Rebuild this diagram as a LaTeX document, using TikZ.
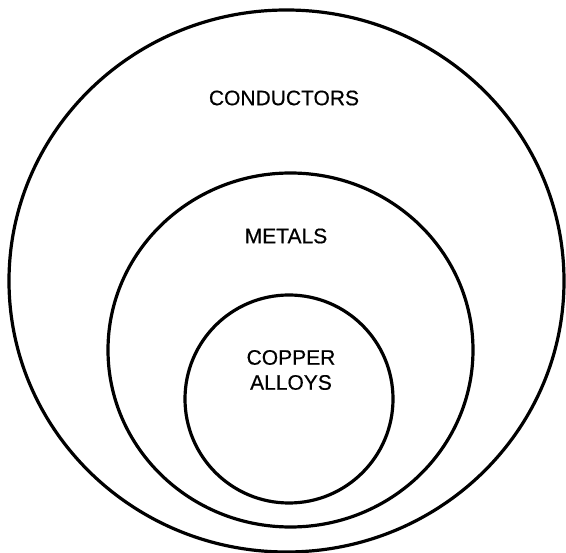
\documentclass[tikz,border=0pt]{standalone}
\usepackage{fontspec}
\setmainfont{Liberation Sans}
\newfontfamily\lblfont{Liberation Sans}[FakeBold=0.5]
\begin{document}
\begin{tikzpicture}[x=1pt,y=-1pt,
  ring/.style={draw=black,line width=3.2pt},
  lbl/.style={font=\lblfont\fontsize{21}{25}\selectfont,align=center,inner sep=0pt}]
\useasboundingbox (0,0) rectangle (566,553);
\draw[ring] (286.5,281) ellipse [x radius=277.5, y radius=271];
\draw[ring] (290.5,350) ellipse [x radius=182.5, y radius=177];
\draw[ring] (289,399) ellipse [x radius=104, y radius=104];
\node[lbl] (cond) at (284,98) {CONDUCTORS};
\node[lbl] (met) at (286,236) {METALS};
\node[lbl] (cop) at (291,370) {COPPER\\ALLOYS};
\end{tikzpicture}
\end{document}
